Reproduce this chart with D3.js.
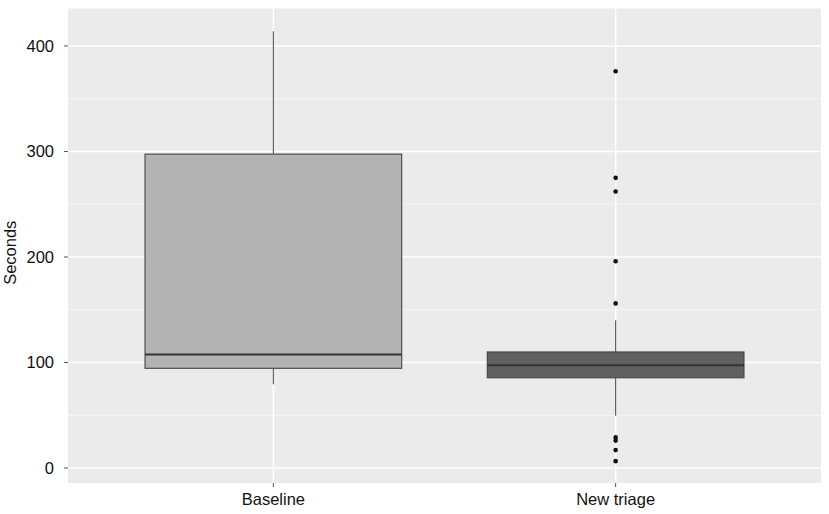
<!DOCTYPE html>
<html><head><meta charset="utf-8">
<script src="https://cdn.jsdelivr.net/npm/d3@7"></script>
<style>body{margin:0;background:#fff}text{font-family:"Liberation Sans",Arial,sans-serif}</style>
</head><body>
<svg id="c" width="829" height="514"></svg>
<script>
const categories = ["Baseline", "New triage"];
const q1 = [94.5, 85.5];
const median = [107.5, 97.5];
const q3 = [297.5, 110];
const whiskerLow = [79.5, 49.5];
const whiskerHigh = [414, 140];
const outliers = [[], [376, 275, 262, 196, 156, 29, 26, 17, 6.5]];
const fills = ["#b3b3b3", "#606060"];
const yTicks = [0, 100, 200, 300, 400];
const yMinor = [50, 150, 250, 350];

const svg = d3.select("#c");
const L = 68, R = 821, T = 8.5, B = 483;
const y = d3.scaleLinear().domain([-14.2, 435.5]).range([B, T]);
// ggplot-style discrete axis: 0.6 unit expansion on each side
const x = d3.scalePoint().domain(categories).range([L, R]).padding(0.6);
const unit = x.step();
const cx = i => x(categories[i]);
const bw = unit * 0.75;
const fs = 16.5;

svg.append("rect").attr("x", L).attr("y", T).attr("width", R - L).attr("height", B - T).attr("fill", "#ebebeb");
yMinor.forEach(v => svg.append("line").attr("x1", L).attr("x2", R).attr("y1", y(v)).attr("y2", y(v)).attr("stroke", "#fafafa").attr("stroke-width", 0.8));
yTicks.forEach(v => svg.append("line").attr("x1", L).attr("x2", R).attr("y1", y(v)).attr("y2", y(v)).attr("stroke", "#fff").attr("stroke-width", 1.4));
categories.forEach((c, i) => svg.append("line").attr("x1", cx(i)).attr("x2", cx(i)).attr("y1", T).attr("y2", B).attr("stroke", "#fff").attr("stroke-width", 1.4));

yTicks.forEach(v => {
  svg.append("line").attr("x1", L - 4).attr("x2", L).attr("y1", y(v)).attr("y2", y(v)).attr("stroke", "#555").attr("stroke-width", 1);
  svg.append("text").attr("x", L - 14).attr("y", y(v)).attr("dy", "0.36em").attr("text-anchor", "end").attr("font-size", fs).attr("fill", "#111").text(v);
});
categories.forEach((c, i) => {
  svg.append("line").attr("x1", cx(i)).attr("x2", cx(i)).attr("y1", B).attr("y2", B + 4).attr("stroke", "#555");
  svg.append("text").attr("x", cx(i)).attr("y", B + 21.5).attr("text-anchor", "middle").attr("font-size", fs).attr("fill", "#111").text(c);
});
svg.append("text").attr("transform", `translate(16,${(T + B) / 2 + 7}) rotate(-90)`).attr("text-anchor", "middle").attr("font-size", fs).attr("fill", "#111").text("Seconds");

categories.forEach((c, i) => {
  const g = svg.append("g");
  g.append("line").attr("x1", cx(i)).attr("x2", cx(i)).attr("y1", y(whiskerHigh[i])).attr("y2", y(q3[i])).attr("stroke", "#555").attr("stroke-width", 1.1);
  g.append("line").attr("x1", cx(i)).attr("x2", cx(i)).attr("y1", y(q1[i])).attr("y2", y(whiskerLow[i])).attr("stroke", "#555").attr("stroke-width", 1.1);
  g.append("rect").attr("x", cx(i) - bw / 2).attr("y", y(q3[i])).attr("width", bw).attr("height", y(q1[i]) - y(q3[i]))
    .attr("fill", fills[i]).attr("stroke", "#444").attr("stroke-width", 1.1);
  g.append("line").attr("x1", cx(i) - bw / 2).attr("x2", cx(i) + bw / 2).attr("y1", y(median[i])).attr("y2", y(median[i])).attr("stroke", "#333").attr("stroke-width", 2);
  outliers[i].forEach(v => g.append("circle").attr("cx", cx(i)).attr("cy", y(v)).attr("r", 2.3).attr("fill", "#111"));
});
</script>
</body></html>
